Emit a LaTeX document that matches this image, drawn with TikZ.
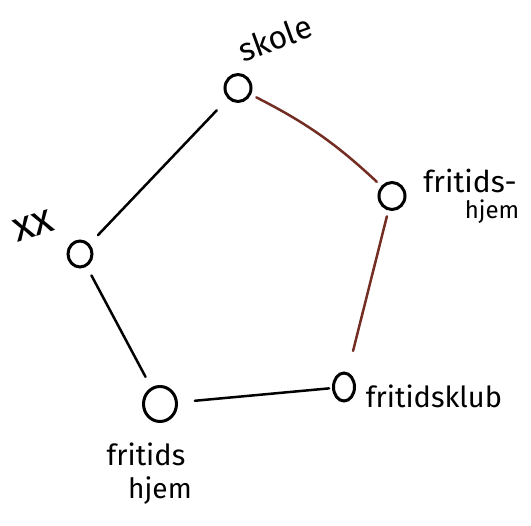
\documentclass[tikz,border=0pt]{standalone}
\usepackage{fontspec}
\setmainfont{Fira Sans}
\usetikzlibrary{shapes.geometric}
\definecolor{sketchbrown}{RGB}{115,45,35}
\begin{document}
\begin{tikzpicture}[x=1pt,y=-1pt,
  spot/.style={ellipse,draw=black,line width=3pt,minimum width=26pt,minimum height=27pt,inner sep=0pt},
  link/.style={line width=2.5pt,black,line cap=round},
  brownlink/.style={link,draw=sketchbrown},
  lbl/.style={inner sep=0pt,align=center}]
\useasboundingbox (0,0) rectangle (531,526);
\node[spot] (skole) at (238,88) {};
\node[spot] (fh) at (392,196) {};
\node[spot,minimum width=21pt,minimum height=28pt] (fk) at (344,387) {};
\node[spot,minimum width=33pt,minimum height=35pt] (bot) at (160,404) {};
\node[spot,minimum width=24pt,minimum height=26pt] (xx) at (80,254) {};
\node[lbl,rotate=20,font=\fontsize{32}{34}\selectfont] (tskole) at (275,38) {skole};
\node[lbl,font=\fontsize{30}{32}\selectfont] (tfh) at (470,181) {fritids-};
\node[lbl,font=\fontsize{24}{26}\selectfont] (tfh2) at (492,212) {hjem};
\node[lbl,font=\fontsize{29}{31}\selectfont] (tfk) at (434,396) {fritidsklub};
\node[lbl,font=\fontsize{29}{31}\selectfont] (tbot) at (146,454) {fritids};
\node[lbl,font=\fontsize{28}{30}\selectfont] (tbot2) at (160,491) {hjem};
\node[lbl,rotate=18,font=\fontsize{42}{44}\selectfont] (txx) at (33,226) {xx};
\draw[brownlink,shorten <=6pt,shorten >=6pt] (skole) to[bend left=8] (fh);
\draw[brownlink,shorten <=22pt,shorten >=6pt] (fk) -- (fh);
\draw[link,shorten <=16pt,shorten >=12pt] (skole) -- (xx);
\draw[link,shorten <=10pt,shorten >=12pt] (xx) -- (bot);
\draw[link,shorten <=17pt,shorten >=3pt] (bot) -- (fk);
\end{tikzpicture}
\end{document}
